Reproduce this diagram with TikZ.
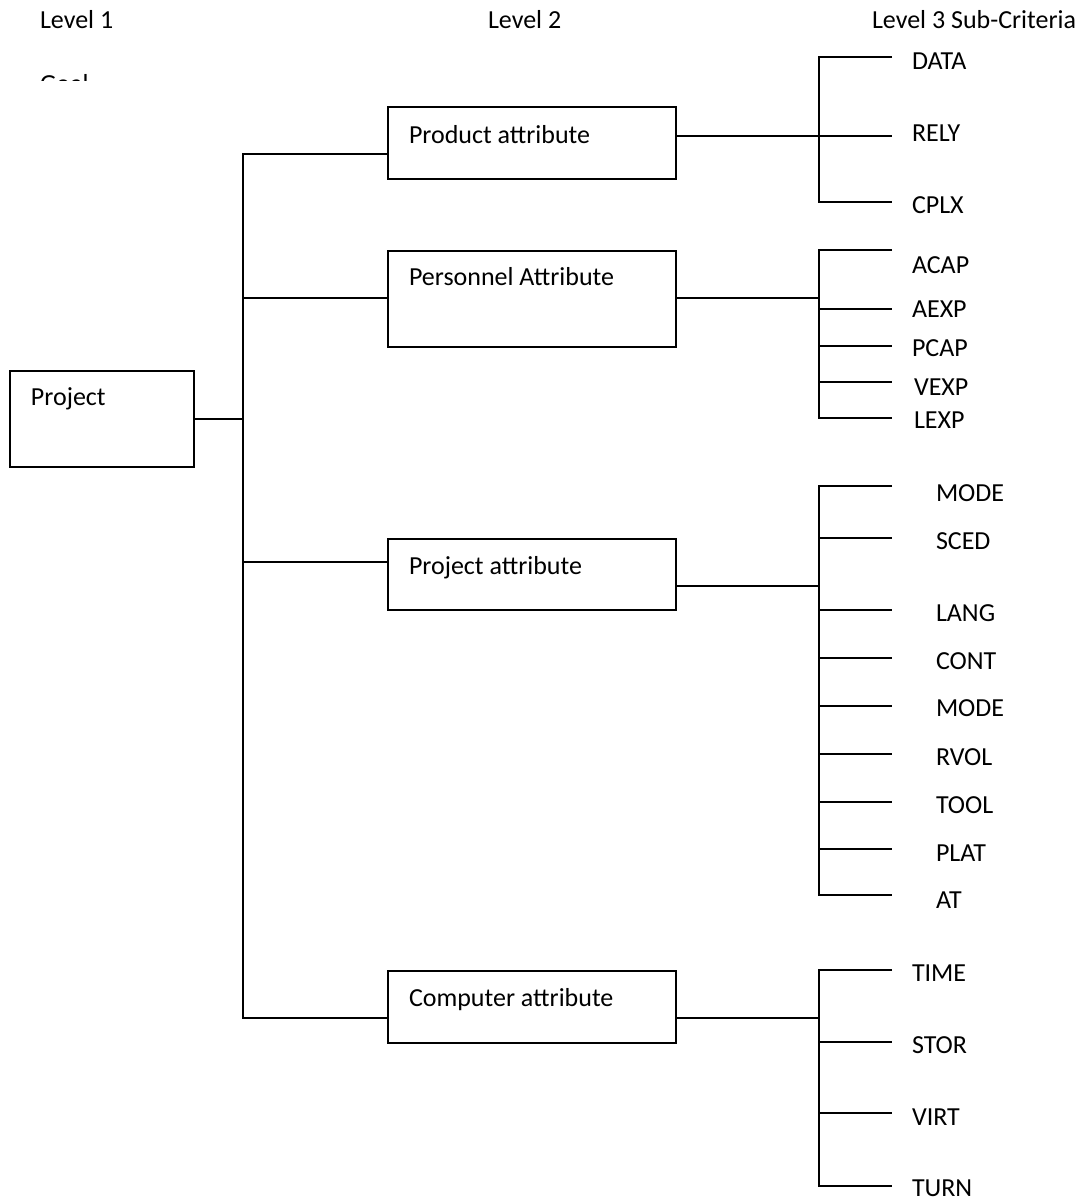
\documentclass[tikz,border=0pt]{standalone}
\usepackage{fontspec}
\setmainfont{Carlito}

\begin{document}
\begin{tikzpicture}
[-,line width=1pt,x=0.5pt,y=-0.5pt,%
  every node/.style={inner sep=0pt},%
  box/.style={draw,anchor=north west,inner ysep=0pt,inner xsep=10.5pt,text width=#1,align=flush left},%
  leaf/.style={anchor=west},%
  level/.style={anchor=base west}]
\fontsize{13pt}{15.6pt}\selectfont
\useasboundingbox (0,0) rectangle (1084,1200);
\node[level] (lev1) at (39,28.3) {Level 1};
\node[level] (lev2) at (487,28.3) {Level 2};
\node[level] (lev3) at (871,28.3) {Level 3 Sub-Criteria};
\begin{scope}
  \clip (0,0) rectangle (400,80);
  \node[level] (goal) at (39,92) {Goal};
\end{scope}
\node[box=71pt,text height=17pt,text depth=31pt] (proj) at (9,370) {Project};
\node[box=123pt,text height=18pt,text depth=18pt] (prod) at (387,106) {Product attribute};
\node[box=123pt,text height=17pt,text depth=31pt] (pers) at (387,250) {Personnel Attribute};
\node[box=123pt,text height=17.5pt,text depth=18pt] (pattr) at (387,538) {Project attribute};
\node[box=123pt,text height=17.5pt,text depth=18.5pt] (comp) at (387,970) {Computer attribute};
\coordinate (j1) at (243,154);
\coordinate (j2) at (243,298);
\coordinate (j3) at (243,562);
\coordinate (j4) at (243,1018);
\draw (proj.east) -- (proj.east -| j1);
\draw (j1 -| prod.west) -- (j1) -- (j4) -- (j4 -| comp.west);
\draw (j2) -- (j2 -| pers.west);
\draw (j3) -- (j3 -| pattr.west);
\coordinate (k1) at (819,136);
\coordinate (k2) at (819,298);
\coordinate (k3) at (819,586);
\coordinate (k4) at (819,1018);
\draw (k1 -| prod.east) -- (k1);
\draw (k2 -| pers.east) -- (k2);
\draw (k3 -| pattr.east) -- (k3);
\draw (k4 -| comp.east) -- (k4);
\foreach \n/\by/\ly/\txt in {data/57/61/DATA,rely/136/133/RELY,cplx/202/205/CPLX}{
  \coordinate (\n) at (892,\by);
  \node[leaf] (\n-l) at (911,\ly) {\txt};
  \draw (\n -| k1) -- (\n);
}
\draw (data) -- (data -| k1) -- (cplx -| k1) -- (cplx);
\foreach \n/\by/\ly/\lx/\txt in {acap/250/265/911/ACAP,aexp/309/309/911/AEXP,pcap/346/348/911/PCAP,%
    vexp/382/387/913/VEXP,lexp/418/420/913/LEXP}{
  \coordinate (\n) at (892,\by);
  \node[leaf] (\n-l) at (\lx,\ly) {\txt};
  \draw (\n -| k2) -- (\n);
}
\draw (acap) -- (acap -| k2) -- (lexp -| k2) -- (lexp);
\foreach \n/\by/\ly/\txt in {modea/486/493/MODE,sced/538/541/SCED,lang/610/613/LANG,cont/658/661/CONT,%
    modeb/706/708/MODE,rvol/754/757/RVOL,tool/802/805/TOOL,plat/849/853/PLAT,attr/895/900/AT}{
  \coordinate (\n) at (892,\by);
  \node[leaf] (\n-l) at (935,\ly) {\txt};
  \draw (\n -| k3) -- (\n);
}
\draw (modea) -- (modea -| k3) -- (attr -| k3) -- (attr);
\foreach \n/\by/\ly/\txt in {time/970/973/TIME,stor/1042/1045/STOR,virt/1113/1117/VIRT,turn/1186/1188/TURN}{
  \coordinate (\n) at (892,\by);
  \node[leaf] (\n-l) at (911,\ly) {\txt};
  \draw (\n -| k4) -- (\n);
}
\draw (time) -- (time -| k4) -- (turn -| k4) -- (turn);
\end{tikzpicture}
\end{document}
